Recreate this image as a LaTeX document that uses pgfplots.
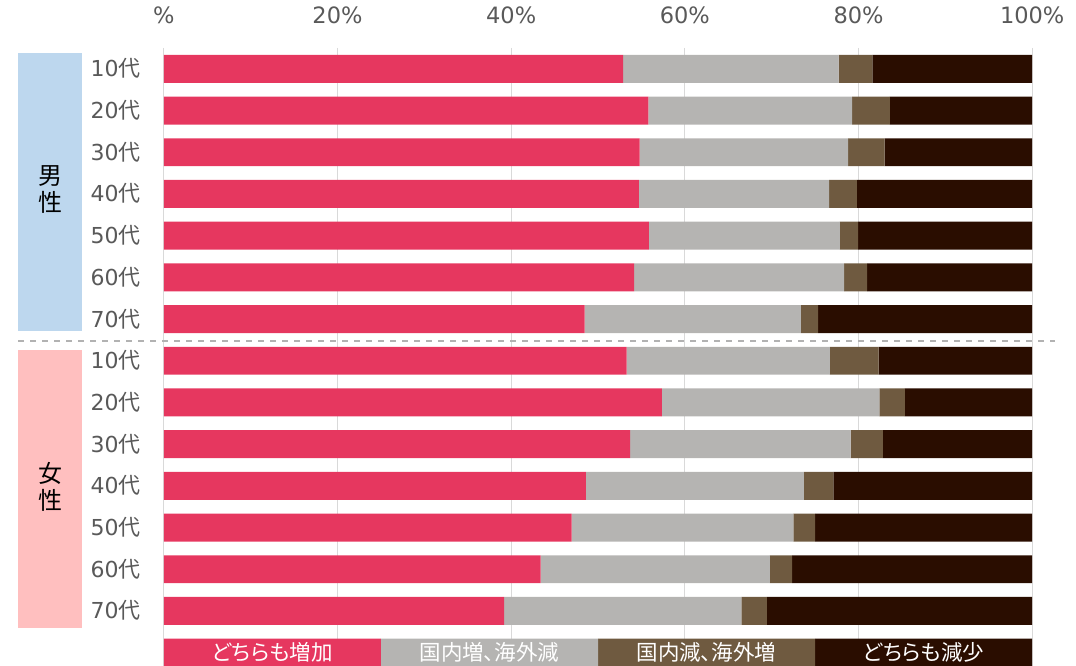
\documentclass[border=0pt]{standalone}
\usepackage{fontspec}
\setmainfont{DejaVu Sans}
\newfontfamily\jp{Noto Sans CJK JP}
\newfontfamily\jpp[RawFeature=+palt]{Noto Sans CJK JP}
\usepackage{pgfplots}
\usepackage{pgfplotstable}
\pgfplotsset{compat=1.18}
\definecolor{cA}{HTML}{E6375F}
\definecolor{cB}{HTML}{B5B4B2}
\definecolor{cC}{HTML}{6F5A40}
\definecolor{cD}{HTML}{2A0D00}
\definecolor{boxblue}{HTML}{BDD7EE}
\definecolor{boxpink}{HTML}{FFBFBF}
\definecolor{gridgrey}{HTML}{D9D9D9}
\definecolor{labgrey}{HTML}{595959}
\newcommand{\dai}{{\jp 代}}
\pgfplotstableread{
y a b c d
0 52.9 24.8 3.9 18.4
1 55.8 23.45 4.35 16.4
2 54.8 24.0 4.2 17.0
3 54.7 21.9 3.2 20.2
4 55.85 22.0 2.1 20.05
5 54.15 24.2 2.65 19.0
6 48.45 24.9 2.0 24.65
7 53.3 23.4 5.6 17.7
8 57.35 25.05 2.95 14.65
9 53.7 25.4 3.7 17.2
10 48.6 25.1 3.4 22.9
11 46.95 25.55 2.5 25.0
12 43.4 26.4 2.55 27.65
13 39.2 27.3 2.95 30.55
14 25 25 25 25
}\data
\begin{document}
\begin{tikzpicture}
\path[use as bounding box] (0,0) rectangle (1076pt,666pt);
\fill[boxblue] (18pt,335pt) rectangle (82pt,613pt);
\fill[boxpink] (18pt,38.3pt) rectangle (82pt,316pt);
\node[font=\jp\fontsize{24}{27}\selectfont, align=center, inner sep=0pt] at (50pt,476pt) {男\\性};
\node[font=\jp\fontsize{24}{27}\selectfont, align=center, inner sep=0pt] at (50pt,179pt) {女\\性};
\begin{axis}[
  at={(163.8pt,0pt)}, anchor=south west,
  scale only axis, width=868.4pt, height=618pt,
  xbar stacked, bar width=0.67,
  xmin=0, xmax=100, ymin=-0.5, ymax=14.32,
  y dir=reverse,
  axis line style={draw=none},
  major tick length=0pt,
  xtick={0,20,40,60,80,100},
  xticklabels={\%,20\%,40\%,60\%,80\%,100\%},
  xticklabel pos=right,
  xticklabel style={anchor=base, yshift=24pt, font=\fontsize{22.5}{25}\selectfont, text=labgrey},
  ytick={0,...,13},
  yticklabels={10\dai,20\dai,30\dai,40\dai,50\dai,60\dai,70\dai,10\dai,20\dai,30\dai,40\dai,50\dai,60\dai,70\dai},
  yticklabel style={anchor=base east, inner sep=0pt, xshift=-23pt, yshift=-8pt, font=\fontsize{22}{25}\selectfont, text=labgrey},
  xmajorgrids, grid style={draw=gridgrey, line width=1.3pt},
  after end axis/.code={
    \node[text=white, font=\jpp\fontsize{21.5}{23}\selectfont] at (axis cs:12.5,14) {どちらも増加};
    \node[text=white, font=\jpp\fontsize{21.5}{23}\selectfont] at (axis cs:37.5,14) {国内増、海外減};
    \node[text=white, font=\jpp\fontsize{21.5}{23}\selectfont] at (axis cs:62.5,14) {国内減、海外増};
    \node[text=white, font=\jpp\fontsize{21.5}{23}\selectfont] at (axis cs:87.5,14) {どちらも減少};
  },
]
\addplot[fill=cA, draw=none] table[x=a, y=y]{\data};
\addplot[fill=cB, draw=none] table[x=b, y=y]{\data};
\addplot[fill=cC, draw=none] table[x=c, y=y]{\data};
\addplot[fill=cD, draw=none] table[x=d, y=y]{\data};
\end{axis}
\draw[draw=gray!60, line width=1.2pt, dash pattern=on 6pt off 6pt] (18pt,325pt) -- (1055pt,325pt);
\end{tikzpicture}
\end{document}
